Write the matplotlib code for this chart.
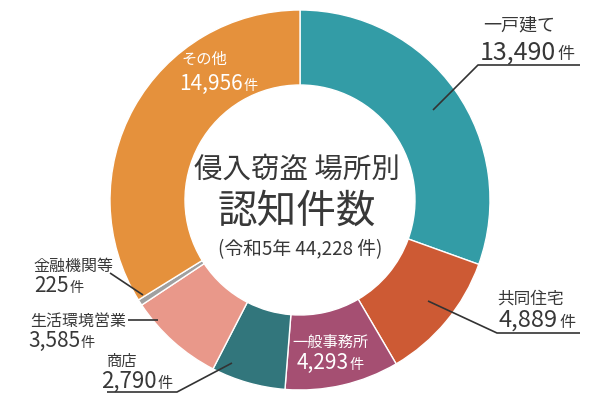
import matplotlib
matplotlib.use('Agg')
from matplotlib import pyplot as plt

plt.rcParams['font.family'] = ['Noto Sans CJK JP', 'DejaVu Sans']

# Categories, clockwise from the top
labels: [str] = ['一戸建て', '共同住宅', '一般事務所', '商店',
                 '生活環境営業', '金融機関等', 'その他']
counts: [int] = [13490, 4889, 4293, 2790, 3585, 225, 14956]
count_labels: [str] = ['13,490', '4,889', '4,293', '2,790',
                       '3,585', '225', '14,956']
colors: [str] = ['#339ca6', '#cd5a34', '#a54f72', '#32767c',
                 '#e9988a', '#a0a0a0', '#e5913c']

title_1: str = '侵入窃盗 場所別'
title_2: str = '認知件数'
title_3: str = '(令和5年 44,228 件)'

dark: str = '#383838'

fig = plt.figure(figsize=(6, 4), dpi=100)
ax = fig.add_axes([0, 0, 1, 1])

ax.pie(counts, colors=colors, startangle=90, counterclock=False,
       radius=190, center=(300, 200),
       wedgeprops=dict(width=75, edgecolor='white', linewidth=1))

ax.set_xlim(0, 600)
ax.set_ylim(0, 400)
ax.set_aspect('equal')
ax.axis('off')


def y(px: float) -> float:
    # pixel row (from the top) to axis units
    return 400 - px


# Centre text
ax.text(297, y(170), title_1, ha='center', va='center',
        fontsize=20.5, color=dark)
ax.text(297, y(212), title_2, ha='center', va='center',
        fontsize=28.5, color=dark)
ax.text(300, y(250), title_3, ha='center', va='center',
        fontsize=13.5, color=dark)

# Label layout: (name x, name centre y, split x, number baseline y,
#                name size, number size, text colour)
layout = [
    (483, 25, 556, 59, 13, 18, dark),
    (497, 299, 558, 327, 12, 17, dark),
    (292, 342, 349, 369, 11, 15, 'white'),
    (107, 361, 157, 388, 11, 16, dark),
    (30, 321, 80, 347, 11.5, 15, dark),
    (33, 266, 69, 292, 11.5, 15, dark),
    (181, 59, 243, 90, 11, 15, 'white'),
]

for i, (nx, ny, sx, by, ns, cs, c) in enumerate(layout):
    ax.text(nx, y(ny), labels[i], ha='left', va='center', fontsize=ns, color=c)
    ax.text(sx, y(by), count_labels[i], ha='right', va='baseline',
            fontsize=cs, color=c)
    ax.text(sx + 1, y(by), '件', ha='left', va='baseline',
            fontsize=cs * 0.68, color=c)

# Leader lines (pixel coordinates)
leaders = [
    [(580, 65), (478, 65), (433, 110)],
    [(580, 333), (497, 333), (428, 301)],
    [(107, 392), (177, 392), (232, 363)],
    [(128, 320), (158, 320)],
    [(110, 273), (143, 295)],
]
for pts in leaders:
    ax.plot([p[0] for p in pts], [y(p[1]) for p in pts],
            color='#333333', linewidth=1.2, solid_capstyle='butt')

plt.savefig('out.png', dpi=100)
